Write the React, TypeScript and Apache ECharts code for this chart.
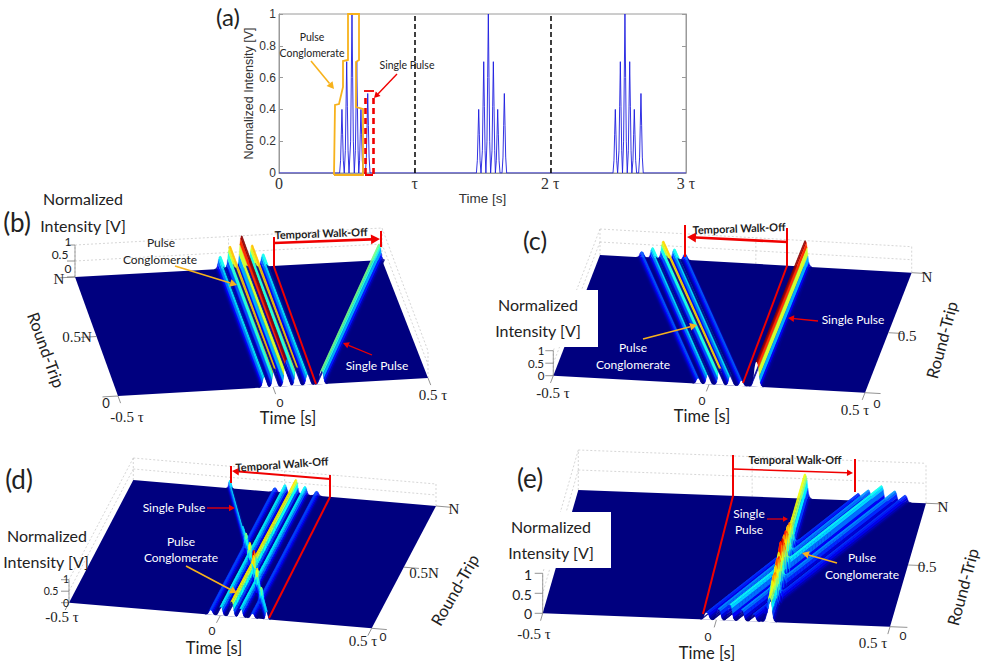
import React, { useEffect, useRef } from "react";
import * as echarts from "echarts";

// ---------- (a) oscilloscope trace, time in units of tau ----------
const traceTime1 = [.447,.454,.459,.464,.469,.474,.481, .482,.489,.494,.499,.504,.509,.516, .521,.528,.533,.538,.543,.548,.555, .556,.563,.568,.573,.578,.583,.588, .589,.594,.599,.604,.609,.614,.621, .637,.644,.649,.654,.659,.664,.671];
const traceTime2 = [1.455,1.462,1.467,1.472,1.477,1.482,1.489, 1.492,1.499,1.504,1.509,1.514,1.519,1.525, 1.526,1.533,1.538,1.543,1.548,1.553,1.56, 1.563,1.57,1.575,1.58,1.585,1.59,1.595, 1.596,1.602,1.607,1.612,1.617,1.622,1.629, 1.644,1.651,1.656,1.661,1.666,1.671,1.678];
const traceTime3 = [2.462,2.469,2.474,2.479,2.484,2.489,2.496, 2.499,2.506,2.511,2.516,2.521,2.526,2.532, 2.533,2.54,2.545,2.55,2.555,2.56,2.567, 2.568,2.575,2.58,2.585,2.59,2.595,2.601, 2.602,2.609,2.614,2.619,2.624,2.629,2.636, 2.651,2.658,2.663,2.668,2.673,2.678,2.685];
const traceIntensity = [0,.08,.24,.4,.24,.08,0, 0,.14,.42,.7,.42,.14,0, 0,.2,.6,1,.6,.2,0, 0,.14,.42,.7,.42,.14,0, 0,.08,.24,.4,.24,.08,0, 0,.1,.3,.5,.3,.1,0];
const periodMarks = [1, 2];
const timeTicks = ["0", "τ", "2 τ", "3 τ"];

// ---------- (b)-(e) ridges: time at round-trip 0, time at round-trip N, peak, half width ----------
const bStart = [-.027,.005,.043,.077,.113,.156];
const bEnd = [-.027,.005,.043,.077,.113,.49];
const bPeak = [.4,.7,1,.7,.4,.5];
const bWidth = [.019,.019,.02,.019,.019,.019];

const cStart = [-.035,-.003,.035,.069,.104,.152];
const cEnd = [-.366,-.331,-.297,-.261,-.227,.158];
const cPeak = [.22,.4,.68,.4,.22,1];
const cWidth = [.018,.018,.019,.018,.018,.022];

const dStart = [-.032,.001,.037,.067,.106,.153];
const dEnd = [-.032,.001,.037,.067,.106,-.181];
const dPeak = [.2,.38,.66,.38,.2,.36];
const dWidth = [.018,.018,.018,.018,.018,.012];

const eStart = [-.028,.006,.039,.073,.107,.153];
const eEnd = [.305,.334,.372,.41,.44,.152];
const ePeak = [.18,.28,.4,.28,.18,.62];
const eWidth = [.018,.018,.018,.018,.018,.02];

const ridgeOffset = [-1,-.85,-.7,-.55,-.42,-.3,-.18,-.08,0,.08,.18,.3,.42,.55,.7,.85,1];
const ridgeShape = [0,.02,.06,.17,.42,.74,.92,.99,1,.99,.92,.74,.42,.17,.06,.02,0];

type P = [number, number];
const panels: any[] = [
  { fl:[118,396], fr:[428,378], bl:[75,277], br:[382,260], zf:27, zb:32, wall:-.5, zAt:"back", start:bStart, end:bEnd, peak:bPeak, width:bWidth },
  { fl:[553.3,375.7], fr:[865,392.7], bl:[600,255], br:[911.7,272.7], zf:25, zb:26, wall:.5, zAt:"front", start:cStart, end:cEnd, peak:cPeak, width:cWidth },
  { fl:[69,602.7], fr:[371.7,628.3], bl:[133.3,480], br:[436,506], zf:23, zb:22, wall:.5, zAt:"front", start:dStart, end:dEnd, peak:dPeak, width:dWidth, cross:[.05,.65,30] },
  { fl:[542.7,613.3], fr:[890,626.7], bl:[578.3,490], br:[926,503.3], zf:40, zb:40, wall:.5, zAt:"front", start:eStart, end:eEnd, peak:ePeak, width:eWidth, cross:[.05,.65,30] },
];

const project = (p: any, t: number, r: number, z: number): P => {
  const u = t + 0.5;
  const x = (1-r)*((1-u)*p.fl[0]+u*p.fr[0]) + r*((1-u)*p.bl[0]+u*p.br[0]);
  const y = (1-r)*((1-u)*p.fl[1]+u*p.fr[1]) + r*((1-u)*p.bl[1]+u*p.br[1]);
  return [x, y - z*((1-r)*p.zf + r*p.zb)];
};
const shape = (x: number) => {
  if (x <= -1 || x >= 1) return 0;
  for (let i = 1; i < ridgeOffset.length; i++) {
    if (x <= ridgeOffset[i]) {
      const f = (x-ridgeOffset[i-1])/(ridgeOffset[i]-ridgeOffset[i-1]);
      return ridgeShape[i-1] + f*(ridgeShape[i]-ridgeShape[i-1]);
    }
  }
  return 0;
};
const centre = (p: any, i: number, r: number) => p.start[i] + r*(p.end[i]-p.start[i]);
const field = (p: any, t: number, r: number) => {
  let z = 0;
  for (let i = 0; i < p.peak.length; i++) z += p.peak[i]*shape((t-centre(p,i,r))/p.width[i]);
  return z;
};
const jet = (v: number) => {
  const c = (a: number) => Math.round(255*Math.max(0, Math.min(1, a)));
  const s = Math.max(0, Math.min(1, v));
  return `rgb(${c(1.5-Math.abs(4*s-3))},${c(1.5-Math.abs(4*s-2))},${c(1.5-Math.abs(4*s-1))})`;
};
const NAVY = "#00007f";

const renderPanel = (_: any, api: any) => {
  const p = panels[api.value(0)];
  const pt = (t: number, r: number, z: number) => api.coord(project(p, t, r, z));
  const kids: any[] = [];
  const ln = (a: number[], b: number[], stroke: string, w: number, dash?: number[]) =>
    kids.push({ type:"line", shape:{x1:a[0],y1:a[1],x2:b[0],y2:b[1]}, style:{stroke,lineWidth:w,lineDash:dash}, silent:true });
  const dot = [2,2];
  const grey = "#c4c4c4";
  // box walls
  const otherWall = p.wall > 0 ? -.5 : .5;
  [.5,1].forEach((z) => {
    ln(pt(-.5,1,z), pt(.5,1,z), grey, .7, dot);
    ln(pt(otherWall,1,z), pt(otherWall,0,z), grey, .7, dot);
  });
  [-.5,0,.5].forEach((t) => ln(pt(t,1,0), pt(t,1,1), grey, .7, dot));
  ln(pt(otherWall,0,0), pt(otherWall,0,1), grey, .7, dot);
  // floor
  kids.push({ type:"polygon", shape:{points:[pt(-.5,0,0),pt(.5,0,0),pt(.5,1,0),pt(-.5,1,0)]}, style:{fill:NAVY}, silent:true });
  // front and side ticks
  const tick = "#777";
  [-.5,0,.5].forEach((t) => ln(pt(t,0,0), pt(t,-.06,0), tick, .8));
  [0,.5,1].forEach((r) => ln(pt(p.wall,r,0), pt(p.wall+(p.wall>0?.05:-.05),r,0), tick, .8));
  const corner = p.zAt === "back" ? 1 : 0;
  const cornerT = -.5;
  ln(pt(cornerT,corner,0), pt(cornerT,corner,1), tick, .7);
  [0,.5,1].forEach((z) => { const a = pt(cornerT,corner,z); ln(a, [a[0]-8,a[1]], tick, .8); });
  // white gap under the raised front edge
  const idx = p.peak.map((_: number, i: number) => i);
  idx.forEach((i: number) => {
    const c = centre(p,i,0), w = p.width[i];
    const pts = ridgeOffset.map((o) => pt(c+o*w,0,field(p,c+o*w,0)));
    pts.push(pt(c+w,0,0), pt(c-w,0,0));
    kids.push({ type:"polygon", shape:{points:pts}, style:{fill:"#fff"}, silent:true });
  });
  // ridges, back to front
  const rows: number[] = [1];
  if (p.cross) { const [a,b,n] = p.cross; for (let k = 0; k <= n; k++) rows.push(b-(b-a)*k/n); }
  rows.push(0);
  const lean = project(p,p.end[0],1,0)[0]-project(p,p.start[0],0,0)[0];
  const order = [...idx].sort((a: number,b: number) => lean<0 ? p.start[b]-p.start[a] : p.start[a]-p.start[b]);
  const area = (q: number[][]) => {
    let s = 0;
    q.forEach((a,i) => { const b = q[(i+1)%4]; s += a[0]*b[1]-b[0]*a[1]; });
    return s;
  };
  for (let k = 0; k < rows.length-1; k++) {
    const rb = rows[k], rf = rows[k+1];
    order.forEach((i: number) => {
      const w = p.width[i], cf = centre(p,i,rf), cb = centre(p,i,rb);
      for (let j = 0; j < ridgeOffset.length-1; j++) {
        const o0 = ridgeOffset[j]*w, o1 = ridgeOffset[j+1]*w;
        const zs = [field(p,cf+o0,rf),field(p,cf+o1,rf),field(p,cb+o1,rb),field(p,cb+o0,rb)];
        const q = [pt(cf+o0,rf,zs[0]),pt(cf+o1,rf,zs[1]),pt(cb+o1,rb,zs[2]),pt(cb+o0,rb,zs[3])];
        const flat = [pt(cf+o0,rf,0),pt(cf+o1,rf,0),pt(cb+o1,rb,0),pt(cb+o0,rb,0)];
        if (area(q)*area(flat) <= 0) continue;
        const col = jet((zs[0]+zs[1]+zs[2]+zs[3])/4);
        kids.push({ type:"polygon", shape:{points:q}, style:{fill:col,stroke:col,lineWidth:.3}, silent:true });
      }
    });
  }
  return { type:"group", children:kids };
};

// ---------- annotations (page positions) ----------
const SANS = "Lato", SERIF = "Liberation Serif", TEXT = "#222", RED = "#f00000", GOLD = "#f7b21c";
const g: any[] = [];
const txt = (x: number, y: number, s: string, size = 16, o: any = {}) => g.push({
  type:"text", x, y, z:30, rotation:o.rot||0, silent:true,
  style:{ text:s, fontFamily:o.family||SANS, fontSize:size, fontWeight:o.weight||"normal", fill:o.color||TEXT, textAlign:"center", textVerticalAlign:"middle", align:"center", verticalAlign:"middle" },
});
const seg = (a: number, b: number, c: number, d: number, color = RED, w = 2, dash?: number[]) => g.push({
  type:"line", z:20, silent:true, shape:{x1:a,y1:b,x2:c,y2:d}, style:{stroke:color,lineWidth:w,lineDash:dash},
});
const arrow = (a: number, b: number, c: number, d: number, color = RED, w = 1.5, head = 6) => {
  const ang = Math.atan2(d-b,c-a), bx = c-head*Math.cos(ang), by = d-head*Math.sin(ang);
  const nx = -Math.sin(ang)*head*.55, ny = Math.cos(ang)*head*.55;
  seg(a,b,bx,by,color,w);
  g.push({ type:"polygon", z:21, silent:true, shape:{points:[[c,d],[bx+nx,by+ny],[bx-nx,by-ny]]}, style:{fill:color} });
};
const deg = (v: number) => v*Math.PI/180;
const label = (x: number, y: number, s: string, size = 16) => txt(x,y,s,size);
const serif = (x: number, y: number, s: string, size = 15) => txt(x,y,s,size,{family:SERIF});
const WALK = 11, NOTE = 12;

g.push({ type:"rect", z:15, silent:true, shape:{x:490,y:290,width:108,height:57}, style:{fill:"#fff"} });
g.push({ type:"rect", z:15, silent:true, shape:{x:490,y:512,width:121,height:56}, style:{fill:"#fff"} });

// (a)
txt(228,16,"(a)",24);
txt(312,37,"Pulse",10.5); txt(312,53,"Conglomerate",10.5); txt(407,65,"Single Pulse",10.5);
arrow(311,61,334,89,GOLD,1.6,7);
arrow(397,74,374,98,RED,1.4,6);
g.push({ type:"polyline", z:20, silent:true, shape:{points:[[334,175],[335,105],[339,104],[343,87],[343,61],[348,60],[348,14],[359,14],[359,60],[356,62],[356,107],[363,109],[363,175],[334,175]]}, style:{stroke:GOLD,lineWidth:1.8,fill:"none"} });
seg(364,91,374,91,RED,1.8);
seg(365.5,98,365.5,175,RED,2.6,[6,4]);
seg(373.5,98,373.5,175,RED,2.6,[6,4]);
seg(365,175,373,175,RED,2);

// (b)
txt(17,222,"(b)",26); label(83,198,"Normalized"); label(83,225,"Intensity [V]");
txt(161,242,"Pulse",NOTE); txt(160,259,"Conglomerate",NOTE);
arrow(175,266,237,285,GOLD,1.6,7);
txt(321,233,"Temporal Walk-Off",WALK,{weight:"bold",rot:deg(2)});
seg(274,237,274,267); seg(274,267,316,384,RED,2);
arrow(274,243,380,239,RED,2.6,9); seg(381,231,381,247);
txt(377,365,"Single Pulse",NOTE,{color:"#fff"}); arrow(372,355,343,343,RED,1.3,6);
label(46,350,"Round-Trip",16.5); g[g.length-1].rotation = deg(-70);
serif(77,337,"0.5N",15); serif(59,279,"N",15);
txt(68,241,"1",12); txt(60,254,"0.5",12); txt(68,268,"0",12); txt(106,403,"0",13);
serif(127,417,"-0.5 τ",15); txt(280,402,"0",12); label(288,418,"Time [s]",16.5); serif(433,395,"0.5 τ",15);

// (c)
txt(535,240,"(c)",25); label(538,304,"Normalized"); label(538,330,"Intensity [V]");
txt(541,350,"1",11.5); txt(536,363,"0.5",11.5); txt(541,375.5,"0",11.5);
serif(553,393,"-0.5 τ",15); txt(702,400,"0",12); label(702,416,"Time [s]",16.5); serif(855,410,"0.5 τ",15); txt(877,403,"0",12);
serif(907,336,"0.5",15); serif(927,277,"N",15);
label(942,340,"Round-Trip",16.5); g[g.length-1].rotation = deg(75);
txt(633,347,"Pulse",NOTE,{color:"#fff"}); txt(633,364,"Conglomerate",NOTE,{color:"#fff"});
arrow(643,339,697,325,GOLD,1.6,7);
txt(853,319,"Single Pulse",NOTE,{color:"#fff"}); arrow(818,321,788,318,RED,1.3,6);
txt(739,228,"Temporal Walk-Off",WALK,{weight:"bold",rot:deg(2)});
seg(787,228,787,266); seg(787,266,743,383);
arrow(787,242,687,237,RED,2.6,9); seg(685,225,685,257);

// (d)
txt(19,479,"(d)",26); label(47,535,"Normalized"); label(46,561,"Intensity [V]");
txt(66,579,"1",10.5); txt(51,591,"0.5",10.5); txt(66,603,"0",10.5);
serif(62,617,"-0.5 τ",15); txt(212,630,"0",12); label(214,648,"Time [s]",16.5); serif(363,641,"0.5 τ",15); txt(383,636,"0",12);
serif(424,573,"0.5N",15); serif(454,509,"N",15);
label(455,590,"Round-Trip",16.5); g[g.length-1].rotation = deg(60);
txt(174,507,"Single Pulse",NOTE,{color:"#fff"}); arrow(207,508,235,508,RED,1.3,6);
txt(181,541,"Pulse",NOTE,{color:"#fff"}); txt(181,557,"Conglomerate",NOTE,{color:"#fff"});
arrow(186,566,237,593,GOLD,1.6,7);
txt(282,464,"Temporal Walk-Off",WALK,{weight:"bold",rot:deg(4)});
seg(231,466,231,483); arrow(330,479,232,471,RED,2,7); seg(330,475,330,497); seg(330,497,269,618);

// (e)
txt(530,478,"(e)",26); label(551,526,"Normalized"); label(551,552,"Intensity [V]");
txt(528,574,"1",14); txt(522,594,"0.5",14); txt(528,613,"0",14);
serif(534,634,"-0.5 τ",15); txt(708,636,"0",12); label(707,653,"Time [s]",16.5); serif(873,643,"0.5 τ",15); txt(903,635,"0",12);
serif(927,567,"0.5",15); serif(943,507,"N",15);
label(963,587,"Round-Trip",16.5); g[g.length-1].rotation = deg(75);
txt(749,513,"Single",NOTE,{color:"#fff"}); txt(749,529,"Pulse",NOTE,{color:"#fff"}); arrow(767,519,788,519,RED,1.2,5);
txt(862,557,"Pulse",NOTE,{color:"#fff"}); txt(862,574,"Conglomerate",NOTE,{color:"#fff"});
arrow(837,563,802,553,GOLD,1.6,7);
txt(795,459,"Temporal Walk-Off",WALK,{weight:"bold",rot:deg(0)});
seg(733,455,733,496); seg(733,496,703,614); arrow(733,469,853,473,RED,1.6,6); seg(855,459,855,492);

const traceData: number[][] = [[0,0]];
[traceTime1,traceTime2,traceTime3].forEach((times) => times.forEach((t,i) => traceData.push([t,traceIntensity[i]])));
traceData.push([3,0]);

const axisGrey = "#9a9a9a";

export default function App() {
  const ref = useRef<HTMLDivElement>(null);
  useEffect(() => {
    document.body.style.margin = "0";
    const chart = echarts.init(ref.current!, undefined, { renderer: "svg" });
    chart.setOption({
      animation: false,
      backgroundColor: "#fff",
      grid: [
        { left:279, top:14, width:407, height:159, show:true, borderColor:axisGrey, borderWidth:1 },
        { left:0, top:0, width:983, height:664 },
      ],
      xAxis: [
        { type:"value", gridIndex:0, min:0, max:3, interval:1, name:"Time [s]", nameLocation:"middle", nameGap:7,
          nameTextStyle:{fontFamily:"Liberation Sans",fontSize:13.5,color:"#333"},
          axisLine:{lineStyle:{color:axisGrey}}, axisTick:{inside:true,length:4,lineStyle:{color:axisGrey}}, splitLine:{show:false},
          axisLabel:{margin:2,fontFamily:SERIF,fontSize:16,color:"#333",formatter:(v: number) => timeTicks[Math.round(v)]} },
        { type:"value", gridIndex:1, min:0, max:983, show:false },
      ],
      yAxis: [
        { type:"value", gridIndex:0, min:0, max:1, interval:.2, name:"Normalized Intensity [V]", nameLocation:"middle", nameGap:24,
          nameTextStyle:{fontFamily:"Liberation Sans",fontSize:12.5,color:"#333"},
          axisLine:{lineStyle:{color:axisGrey}}, axisTick:{inside:true,length:4,lineStyle:{color:axisGrey}}, splitLine:{show:false},
          axisLabel:{margin:3,fontFamily:"Liberation Sans",fontSize:12,color:"#333"} },
        { type:"value", gridIndex:0, position:"right", min:0, max:1, interval:.2,
          axisLine:{show:true,lineStyle:{color:axisGrey}}, axisTick:{show:true,inside:true,length:4,lineStyle:{color:axisGrey}}, axisLabel:{show:false}, splitLine:{show:false} },
        { type:"value", gridIndex:1, min:0, max:664, inverse:true, show:false },
      ],
      series: [
        { type:"line", xAxisIndex:0, yAxisIndex:0, data:traceData, showSymbol:false, lineStyle:{color:"#1c1ce0",width:.9}, silent:true, z:3,
          markLine:{ silent:true, symbol:"none", label:{show:false}, lineStyle:{color:"#000",type:[5,3],width:1.5}, data:periodMarks.map((x) => ({xAxis:x})) } },
        { type:"custom", xAxisIndex:1, yAxisIndex:2, data:panels.map((_,i) => [i,0]), encode:{x:0,y:1}, renderItem:renderPanel, clip:false, silent:true, z:2 },
      ],
      graphic: { elements: g },
    });
    return () => chart.dispose();
  }, []);
  return <div ref={ref} style={{ width: 983, height: 664 }} />;
}
